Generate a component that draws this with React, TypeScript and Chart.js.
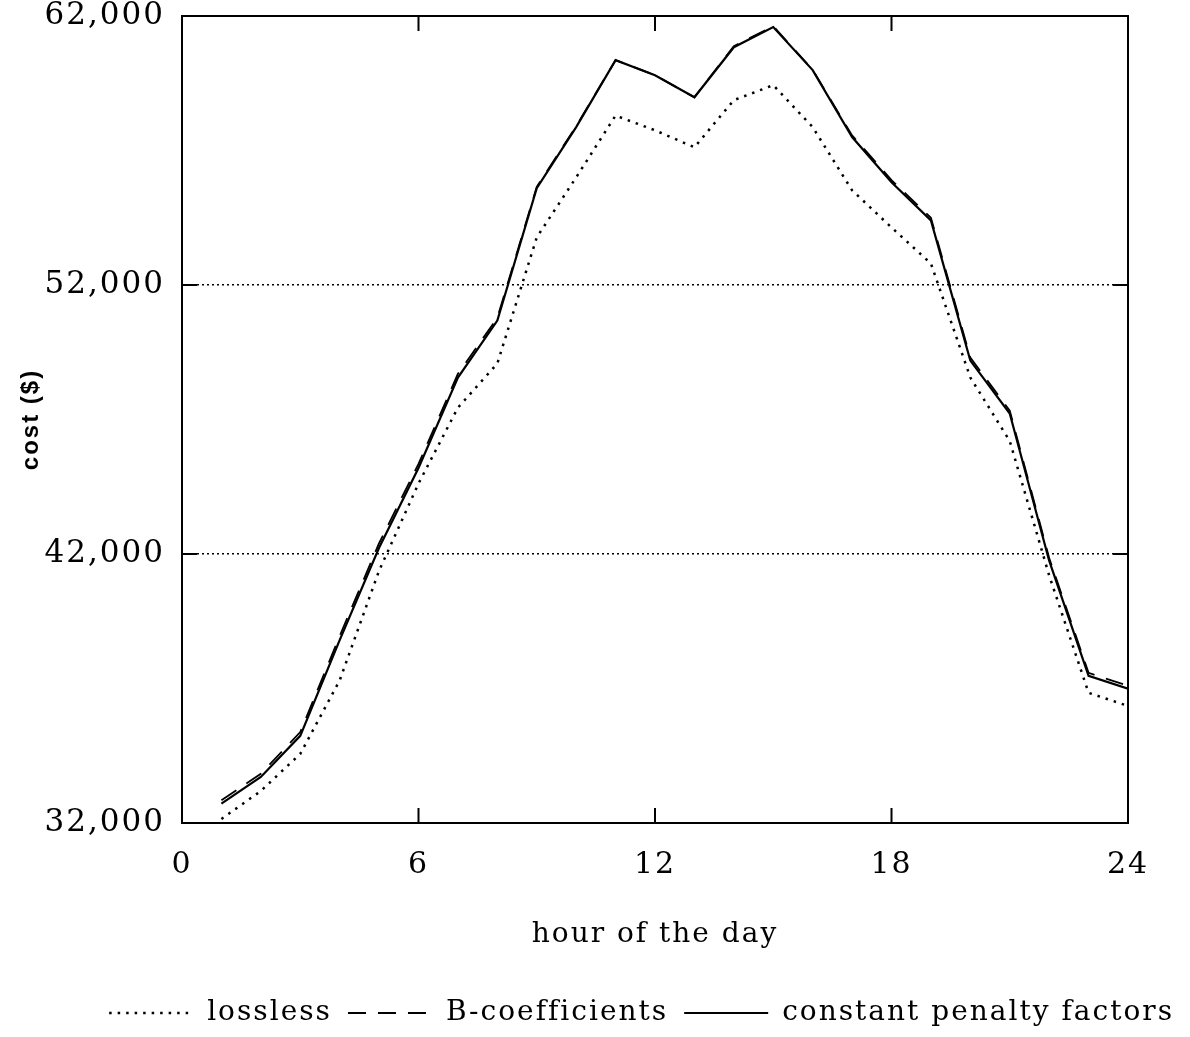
import React, { useEffect, useRef } from "react";
import { Chart, registerables } from "chart.js";

Chart.register(...registerables);

// ---- data ----
const hours = [1, 2, 3, 4, 5, 6, 7, 8, 9, 10, 11, 12, 13, 14, 15, 16, 17, 18, 19, 20, 21, 22, 23, 24];
const lossless = [32150, 33190, 34570, 37300, 41380, 44620, 47440, 49080, 53770, 56000, 58300, 57750, 57120, 58870, 59430, 57870, 55520, 54140, 52800, 48560, 46200, 41200, 36840, 36350];
const bCoefficients = [32850, 33830, 35380, 38950, 42400, 45350, 48700, 50780, 55650, 57900, 60360, 59800, 58980, 60880, 61620, 60000, 57560, 55900, 54500, 49300, 47330, 41850, 37580, 37100];
const constantPenalty = [32720, 33710, 35240, 38800, 42230, 45200, 48560, 50680, 55600, 57870, 60360, 59800, 58980, 60840, 61590, 59990, 57500, 55820, 54400, 49190, 47220, 41750, 37470, 36990];
const seriesLabels = ["lossless", "B-coefficients", "constant penalty factors"];
const xTickValues = [0, 6, 12, 18, 24];
const yTickValues = [32000, 42000, 52000, 62000];
const gridValues = [42000, 52000];
const xTitle = "hour of the day";
const yTitle = "cost ($)";

const SERIF = "'DejaVu Serif', serif";
const SANS = "'Liberation Sans', Arial, sans-serif";
const SPACING = "2px";

const spacingPlugin = {
  id: "letterSpacing",
  beforeLayout(chart: any) {
    chart.ctx.letterSpacing = SPACING;
  },
  beforeDraw(chart: any) {
    chart.ctx.letterSpacing = SPACING;
  },
};

const framePlugin = {
  id: "frame",
  afterDatasetsDraw(chart: any) {
    const { ctx, chartArea, scales } = chart;
    const { left, right, top, bottom } = chartArea;
    const x = scales.x;
    const y = scales.y;
    const tick = 15;
    ctx.save();
    ctx.strokeStyle = "#000";
    ctx.setLineDash([]);
    ctx.lineWidth = 2;
    ctx.strokeRect(left, top, right - left, bottom - top);
    ctx.beginPath();
    xTickValues.slice(1, -1).forEach((v) => {
      const px = x.getPixelForValue(v);
      ctx.moveTo(px, bottom);
      ctx.lineTo(px, bottom - tick);
      ctx.moveTo(px, top);
      ctx.lineTo(px, top + tick);
    });
    gridValues.forEach((v) => {
      const py = y.getPixelForValue(v);
      ctx.moveTo(left, py);
      ctx.lineTo(left + tick, py);
      ctx.moveTo(right, py);
      ctx.lineTo(right - tick, py);
    });
    ctx.stroke();
    ctx.restore();
  },
};

export default function App() {
  const canvasRef = useRef<HTMLCanvasElement | null>(null);

  useEffect(() => {
    document.body.style.margin = "0";
    const canvas = canvasRef.current;
    if (!canvas) return;

    const toPoints = (vals: number[]) => hours.map((h, i) => ({ x: h, y: vals[i] }));
    const defaultLabels = (Chart as any).defaults.plugins.legend.labels.generateLabels;

    const chart = new Chart(canvas, {
      type: "line",
      data: {
        datasets: [
          {
            label: seriesLabels[0],
            data: toPoints(lossless),
            borderColor: "#000",
            backgroundColor: "#000",
            borderWidth: 2.5,
            borderDash: [2.5, 6],
            pointRadius: 0,
            tension: 0,
            xAxisID: "x",
            yAxisID: "y",
          },
          {
            label: seriesLabels[1],
            data: toPoints(bCoefficients),
            borderColor: "#000",
            backgroundColor: "#000",
            borderWidth: 1.8,
            borderDash: [18, 12],
            pointRadius: 0,
            tension: 0,
            xAxisID: "x",
            yAxisID: "y",
          },
          {
            label: seriesLabels[2],
            data: toPoints(constantPenalty),
            borderColor: "#000",
            backgroundColor: "#000",
            borderWidth: 2.2,
            pointRadius: 0,
            tension: 0,
            xAxisID: "x",
            yAxisID: "y",
          },
        ],
      },
      options: {
        responsive: false,
        animation: false,
        layout: { padding: { top: 0, left: 0, right: 0, bottom: 0 } },
        plugins: {
          tooltip: { enabled: false },
          legend: {
            position: "bottom",
            align: "end",
            labels: {
              usePointStyle: true,
              pointStyle: "line",
              pointStyleWidth: 84,
              color: "#000",
              padding: 16,
              font: { family: SERIF, size: 28 },
              generateLabels: (c: any) =>
                defaultLabels(c).map((item: any) => {
                  const ds = c.data.datasets[item.datasetIndex];
                  return {
                    ...item,
                    lineDash: ds.borderDash || [],
                    lineWidth: ds.borderWidth,
                    strokeStyle: "#000",
                    fillStyle: "#000",
                  };
                }),
            },
          },
        },
        scales: {
          x: {
            type: "linear",
            position: "bottom",
            min: 0,
            max: 24,
            afterBuildTicks: (s: any) => {
              s.ticks = xTickValues.map((v) => ({ value: v }));
            },
            ticks: {
              color: "#000",
              padding: 24,
              maxRotation: 0,
              font: { family: SERIF, size: 30 },
            },
            grid: { display: false, drawTicks: false },
            border: { display: false },
            title: {
              display: true,
              text: xTitle,
              color: "#000",
              font: { family: SERIF, size: 28 },
              padding: { top: 0, bottom: 31 },
            },
            afterFit: (s: any) => {
              s.height = 160;
            },
          },
          y: {
            type: "linear",
            position: "left",
            min: 32000,
            max: 62000,
            afterBuildTicks: (s: any) => {
              s.ticks = yTickValues.map((v) => ({ value: v }));
            },
            ticks: {
              color: "#000",
              padding: 17,
              font: { family: SERIF, size: 31 },
              callback: (v: any) => Number(v).toLocaleString("en-US"),
            },
            grid: {
              drawTicks: false,
              lineWidth: 1.5,
              color: (c: any) =>
                c.tick && gridValues.includes(c.tick.value) ? "#000" : "rgba(0,0,0,0)",
            },
            border: { display: false, dash: [2, 3] },
            title: {
              display: true,
              text: yTitle,
              color: "#000",
              font: { family: SANS, size: 24, weight: "bold" },
              padding: { top: 17, bottom: 0 },
            },
            afterFit: (s: any) => {
              s.width = 182;
              s.paddingTop = 16;
              s.paddingBottom = 0;
            },
          },
          y2: {
            type: "linear",
            position: "right",
            display: true,
            ticks: { display: false },
            grid: { display: false, drawTicks: false },
            border: { display: false },
            afterFit: (s: any) => {
              s.width = 62;
              s.paddingTop = 0;
              s.paddingBottom = 0;
            },
          },
        },
      },
      plugins: [spacingPlugin, framePlugin],
    } as any);

    return () => chart.destroy();
  }, []);

  return (
    <div style={{ width: 1190, height: 1037 }}>
      <canvas ref={canvasRef} width={1190} height={1037} style={{ display: "block" }} />
    </div>
  );
}
